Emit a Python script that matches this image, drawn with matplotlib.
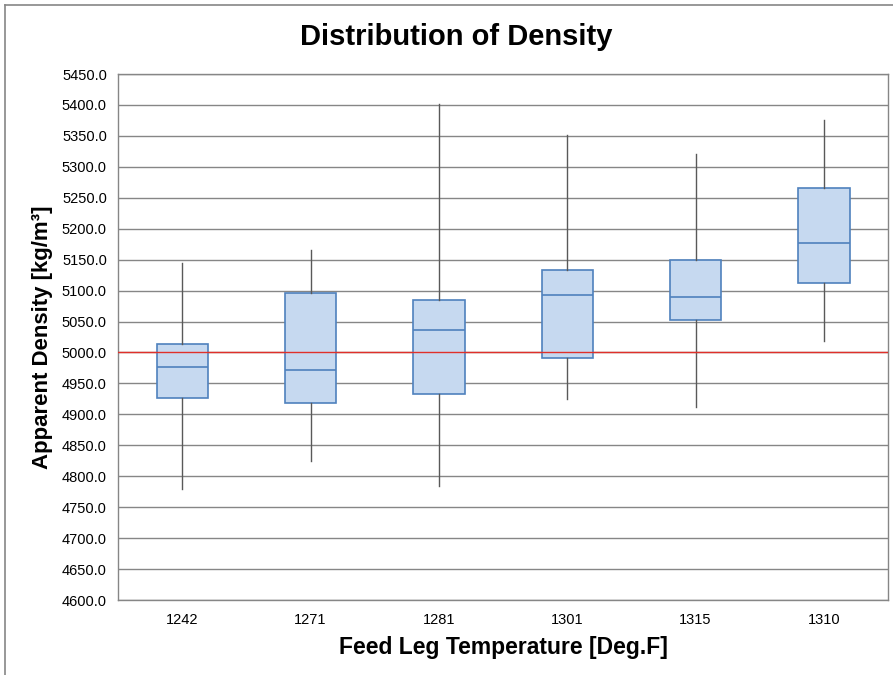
import matplotlib
matplotlib.use("Agg")
import matplotlib.pyplot as plt
from matplotlib.lines import Line2D
from matplotlib.ticker import FormatStrFormatter, MultipleLocator

plt.rcParams['font.family'] = ['Liberation Sans', 'DejaVu Sans']

temps = ["1242", "1271", "1281", "1301", "1315", "1310"]
whisker_low = [4779, 4824, 4785, 4925, 4912, 5019]
q1 = [4926, 4919, 4933, 4991, 5053, 5112]
median = [4976, 4972, 5036, 5093, 5089, 5177]
q3 = [5014, 5096, 5084, 5134, 5149, 5265]
whisker_high = [5145, 5165, 5402, 5352, 5321, 5376]
target_density = 5000

fig = plt.figure(figsize=(8.93, 6.75), dpi=100)
ax = fig.add_axes([118 / 893, 1 - 600 / 675, 770 / 893, 526 / 675])

stats = [dict(whislo=lo, q1=a, med=m, q3=b, whishi=hi, label=t)
         for t, lo, a, m, b, hi in zip(temps, whisker_low, q1, median, q3, whisker_high)]

ax.bxp(stats, positions=range(len(temps)), widths=0.4, patch_artist=True,
       showfliers=False, showcaps=False,
       boxprops=dict(facecolor="#c6d9f0", edgecolor="#4f81bd", linewidth=1.2),
       medianprops=dict(color="#4f81bd", linewidth=1.2),
       whiskerprops=dict(color="#595959", linewidth=1.0),
       zorder=3)

ax.axhline(target_density, color="#e0302a", linewidth=1.0, zorder=4)

ax.set_xlim(-0.5, len(temps) - 0.5)
ax.set_ylim(4600, 5450)
ax.yaxis.set_major_locator(MultipleLocator(50))
ax.yaxis.set_major_formatter(FormatStrFormatter("%.1f"))
ax.grid(axis="y", color="#868686", linewidth=1.0, zorder=0)
ax.set_axisbelow(True)
ax.tick_params(axis="both", length=0, labelsize=10.5, colors="black")
ax.tick_params(axis="x", pad=9)
ax.tick_params(axis="y", pad=8)
ax.set_xticks(range(len(temps)))
ax.set_xticklabels(temps)
for s in ax.spines.values():
    s.set_color("#868686")
    s.set_linewidth(1.0)

ax.set_xlabel("Feed Leg Temperature [Deg.F]", fontsize=16.5, fontweight="bold", labelpad=7)
ax.set_ylabel("Apparent Density [kg/m³]", fontsize=16, fontweight="bold", labelpad=6)
fig.text(456 / 893, 1 - 37 / 675, "Distribution of Density", ha="center", va="center",
         fontsize=21, fontweight="bold")

# outer chart-area border
fig.add_artist(Line2D([5 / 893, 1.0], [1 - 5 / 675, 1 - 5 / 675], transform=fig.transFigure,
                      color="#868686", linewidth=1.2))
fig.add_artist(Line2D([5 / 893, 5 / 893], [0.0, 1 - 5 / 675], transform=fig.transFigure,
                      color="#868686", linewidth=1.2))

fig.savefig("out.png", dpi=100)
